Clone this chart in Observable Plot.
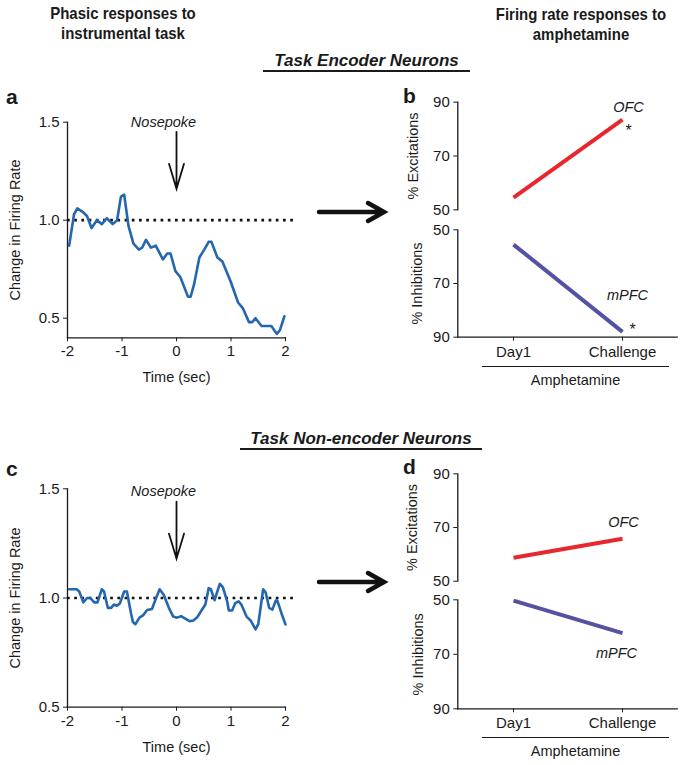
<!DOCTYPE html>
<html><head><meta charset="utf-8">
<script src="https://cdn.jsdelivr.net/npm/d3@7"></script>
<script src="https://cdn.jsdelivr.net/npm/@observablehq/plot@0.6"></script>
<style>
body{margin:0;background:#fff;}
#fig{position:relative;width:690px;height:765px;font-family:"Liberation Sans",Arial,Helvetica,sans-serif;color:#1a1a1a;overflow:hidden;background:#fff}
.hdr{font-weight:bold;font-size:17px;text-align:center;line-height:20px;white-space:nowrap;transform:scaleX(0.88);transform-origin:50% 50%}
.sec{font-weight:bold;font-style:italic;font-size:17px;text-align:center;border-bottom:2px solid #1a1a1a;line-height:18px;white-space:nowrap}
.lbl{font-weight:bold;font-size:21px;line-height:21px}
.amp{border-top:1.3px solid #1a1a1a;text-align:center;font-size:14.5px;padding-top:5px}
</style></head>
<body><div id="fig"></div>
<script>
// ---------- data ----------
const xTicks = [-2, -1, 0, 1, 2];
const yTicksTrace = [0.5, 1.0, 1.5];
const nosepokeTime = [0];
const baseline = [1.0];

// Panel a: task encoder neurons, phasic response
const timeA = [-1.97,-1.88,-1.82,-1.71,-1.64,-1.56,-1.46,-1.37,-1.28,-1.17,-1.09,-1.02,-0.96,-0.88,-0.79,-0.69,-0.63,-0.56,-0.47,-0.38,-0.25,-0.17,-0.11,-0.02,0.07,0.21,0.26,0.32,0.42,0.51,0.59,0.64,0.75,0.84,0.99,1.13,1.22,1.33,1.39,1.45,1.56,1.67,1.74,1.84,1.90,1.98];
const rateA = [0.87,1.03,1.06,1.04,1.02,0.96,1.00,0.98,1.01,0.98,1.00,1.12,1.13,0.97,0.88,0.85,0.86,0.90,0.86,0.87,0.80,0.83,0.83,0.74,0.71,0.61,0.61,0.67,0.81,0.85,0.89,0.89,0.81,0.79,0.69,0.58,0.55,0.48,0.48,0.50,0.46,0.46,0.46,0.42,0.44,0.51];

// Panel c: task non-encoder neurons, phasic response
const timeC = [-1.97,-1.83,-1.785,-1.71,-1.64,-1.58,-1.51,-1.45,-1.37,-1.33,-1.26,-1.20,-1.15,-1.09,-1.04,-0.96,-0.91,-0.835,-0.80,-0.755,-0.68,-0.615,-0.54,-0.45,-0.39,-0.31,-0.235,-0.14,-0.06,0.01,0.085,0.16,0.24,0.31,0.38,0.47,0.53,0.59,0.63,0.70,0.75,0.795,0.85,0.93,0.96,1.02,1.08,1.14,1.19,1.285,1.36,1.45,1.50,1.59,1.635,1.70,1.76,1.82,1.85,1.93,2.0];
const rateC = [1.04,1.04,1.03,0.98,1.00,1.00,0.98,0.98,1.04,1.03,0.955,0.955,0.97,0.965,0.975,1.03,1.03,0.93,0.89,0.88,0.91,0.92,0.945,0.95,0.99,1.04,1.015,0.955,0.915,0.91,0.917,0.906,0.894,0.897,0.912,0.947,0.97,1.045,1.04,0.99,1.03,1.065,1.05,0.985,0.943,0.943,0.977,0.985,0.97,0.915,0.897,0.856,0.88,1.04,1.026,0.955,0.947,0.988,0.988,0.927,0.879];

// Panels b, d: firing rate responses to amphetamine
const days = ["Day1", "Challenge"];
const yTicksPct = [50, 70, 90];
const excB = [54.5, 83.5];   // OFC % excitations (encoder)
const inhB = [55.5, 88.0];   // mPFC % inhibitions (encoder)
const excD = [58.7, 65.8];   // OFC % excitations (non-encoder)
const inhD = [50.3, 62.2];   // mPFC % inhibitions (non-encoder)

// ---------- style ----------
const FONT = '"Liberation Sans", Arial, Helvetica, sans-serif';
const INK = "#1a1a1a";
const BLUE = "#2467b0";
const RED = "#e8262e";
const PURPLE = "#5352a3";

const fig = document.getElementById("fig");
function place(node, left, top) {
  node.style.position = "absolute";
  node.style.left = left + "px";
  node.style.top = top + "px";
  fig.appendChild(node);
}

// open "V" arrow pointing along the vector, with long narrow arms
const nosepokeArrow = {
  draw(context, l) {
    const arm = 25, half = 7.5;
    context.moveTo(0, 0);
    context.lineTo(0, -l);
    context.moveTo(-half, -l + arm);
    context.lineTo(0, -l);
    context.lineTo(half, -l + arm);
  }
};

function tracePlot(time, rate, o) {
  const data = time.map((t, i) => ({t, r: rate[i]}));
  return Plot.plot({
    width: 340, height: o.height,
    marginLeft: 67, marginRight: 55, marginTop: o.mt, marginBottom: o.mb,
    style: {background: "transparent", fontSize: "15px", fontFamily: FONT, color: INK, overflow: "visible"},
    x: {domain: [-2, 2], ticks: xTicks, tickSize: 4, tickPadding: 4, label: null, tickFormat: d => String(d)},
    y: {domain: o.ydom, ticks: yTicksTrace, tickSize: 4, tickPadding: 4, label: null, tickFormat: d3.format(".1f")},
    marks: [
      Plot.frame({anchor: "left", stroke: INK, strokeWidth: 1.3}),
      Plot.frame({anchor: "bottom", stroke: INK, strokeWidth: 1.3}),
      Plot.ruleY(baseline, {x1: -2, x2: 2.2, stroke: "#111", strokeWidth: 2.7, strokeDasharray: "2.7 4.5"}),
      Plot.line(data, {x: "t", y: "r", stroke: BLUE, strokeWidth: 2.6}),
      Plot.vector(nosepokeTime, {x: d => d, y: () => o.tip, length: 57, rotate: 180, anchor: "end", shape: nosepokeArrow, strokeWidth: 1.8, stroke: "#111", strokeLinejoin: "miter"}),
      Plot.text(["Nosepoke"], {x: () => nosepokeTime[0], y: () => o.ty, dx: -13, fontStyle: "italic", fontSize: 14.5}),
      Plot.text(["Time (sec)"], {frameAnchor: "bottom", dy: o.xlab, fontSize: 14.5}),
      Plot.text(["Change in Firing Rate"], {frameAnchor: "left", textAnchor: "middle", dx: -52, rotate: -90, fontSize: 14.5})
    ]
  });
}

function pctPlot(vals, o) {
  const data = days.map((d, i) => ({day: d, v: vals[i]}));
  const marks = [
    Plot.frame({anchor: "left", stroke: INK, strokeWidth: 1.3}),
    Plot.line(data, {x: "day", y: "v", stroke: o.color, strokeWidth: 4, strokeLinecap: "butt"}),
    Plot.text([o.region], {x: () => days[1], y: () => o.ly, dx: o.ldx, fontStyle: "italic", fontSize: 14.5}),
    Plot.text([o.ylabel], {frameAnchor: "left", textAnchor: "middle", dx: o.ydx, rotate: -90, fontSize: 14.5})
  ];
  if (o.star) marks.push(Plot.text(["*"], {x: () => days[1], y: () => o.sy, dx: o.sdx, fontSize: 16}));
  if (o.xaxis) marks.push(Plot.frame({anchor: "bottom", stroke: INK, strokeWidth: 1.3}));
  return Plot.plot({
    width: 310, height: o.height,
    marginLeft: 77.3, marginRight: 13.3, marginTop: o.mt, marginBottom: o.mb,
    style: {background: "transparent", fontSize: "15px", fontFamily: FONT, color: INK, overflow: "visible"},
    x: {type: "point", domain: days, padding: 0.5, axis: o.xaxis ? "bottom" : null, tickSize: 4, tickPadding: 5, label: null},
    y: {domain: [50, 90], reverse: !!o.reverse, ticks: yTicksPct, tickSize: 4, tickPadding: 4, label: null},
    marks
  });
}

// ---- plots ----
place(tracePlot(timeA, rateA, {height: 320, mt: 41.7, mb: 62.7, ydom: [0.4, 1.5], tip: 1.16, ty: 1.5, xlab: 44}), 0, 80);
place(tracePlot(timeC, rateC, {height: 305, mt: 28.3, mb: 58.3, ydom: [0.5, 1.5], tip: 1.18, ty: 1.49, xlab: 45}), 0, 460);

place(pctPlot(excB, {height: 140, mt: 21.7, mb: 10.7, color: RED, region: "OFC", ly: 88, ldx: 6, star: true, sy: 79.5, sdx: 6, ylabel: "% Excitations", ydx: -44}), 380, 80);
place(pctPlot(inhB, {height: 170, mt: 9.3, mb: 53.3, color: PURPLE, reverse: true, region: "mPFC", ly: 74.5, ldx: 5, star: true, sy: 87.3, sdx: 10, ylabel: "% Inhibitions", ydx: -40, xaxis: true}), 380, 220);
place(pctPlot(excD, {height: 140, mt: 23.3, mb: 9.3, color: RED, region: "OFC", ly: 72, ldx: 1, ylabel: "% Excitations", ydx: -45}), 380, 450);
place(pctPlot(inhD, {height: 175, mt: 9.3, mb: 56.7, color: PURPLE, reverse: true, region: "mPFC", ly: 69.8, ldx: -6, ylabel: "% Inhibitions", ydx: -39, xaxis: true}), 380, 590);

// ---- text / decorations ----
function html(cls, text, left, top, width) {
  const d = document.createElement("div");
  d.className = cls;
  d.innerHTML = text;
  if (width) d.style.width = width + "px";
  place(d, left, top);
  return d;
}
html("hdr", "Phasic responses to<br>instrumental task", 3, 4, 240);
html("hdr", "Firing rate responses to<br>amphetamine", 461, 5, 240);
html("sec", "Task Encoder Neurons", 263, 52, 207);
html("sec", "Task Non-encoder Neurons", 240, 430, 242);
html("lbl", "a", 6, 86);
html("lbl", "b", 403, 85);
html("lbl", "c", 6, 458);
html("lbl", "d", 403, 456);
html("amp", "Amphetamine", 482, 366, 187);
html("amp", "Amphetamine", 482, 737, 187);

// big black arrows between panels
const ns = "http://www.w3.org/2000/svg";
function bigArrow(y) {
  const s = document.createElementNS(ns, "svg");
  s.setAttribute("width", 80); s.setAttribute("height", 30);
  const p = document.createElementNS(ns, "path");
  p.setAttribute("d", "M3,15 L66,15 M52,6 L68,15 L52,24");
  p.setAttribute("stroke", "#111"); p.setAttribute("stroke-width", "4.5");
  p.setAttribute("fill", "none"); p.setAttribute("stroke-linecap", "round"); p.setAttribute("stroke-linejoin", "miter");
  s.appendChild(p);
  place(s, 316, y - 15);
}
bigArrow(212);
bigArrow(582);
</script></body></html>
